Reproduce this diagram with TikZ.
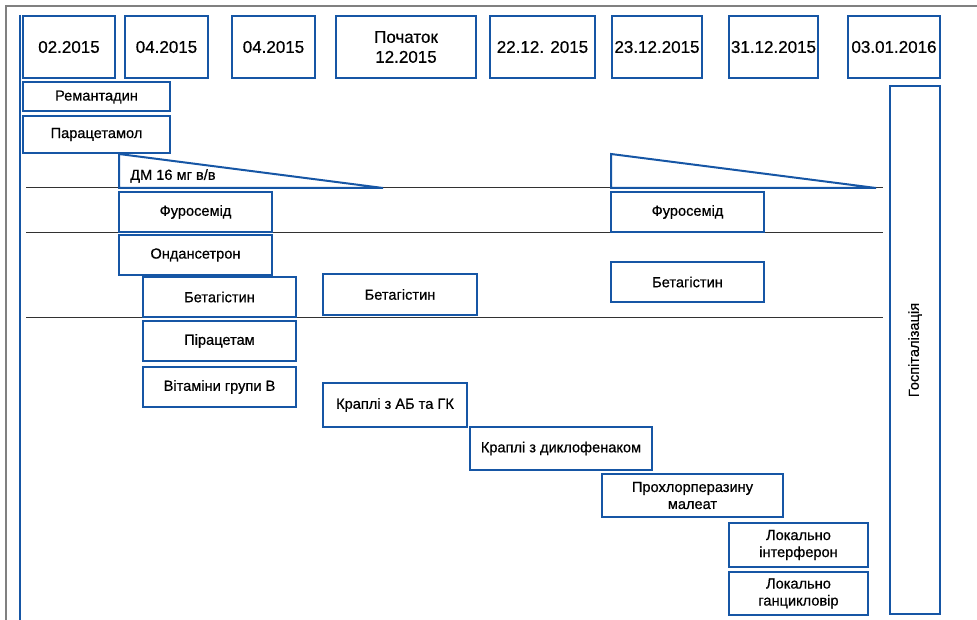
\documentclass[tikz,border=0pt]{standalone}
\usepackage{fontspec}
\setmainfont{Liberation Sans}
\newfontface\medfont{Liberation Sans}[FakeBold=0.6]
\definecolor{boxblue}{RGB}{22,86,165}
\definecolor{framegray}{RGB}{128,128,128}
\definecolor{rulegray}{RGB}{50,50,50}
\tikzset{
  box/.style={draw=boxblue, line width=2pt, fill=white, inner sep=1pt, align=center, font=\medfont\fontsize{14.6}{17}\selectfont},
  datebox/.style={box, font=\medfont\fontsize{17}{20}\selectfont, minimum height=62pt},
  rulestyle/.style={draw=rulegray, line width=1pt},
  tri/.style={draw=boxblue, line width=2pt, line join=miter}
}
\begin{document}
\begin{tikzpicture}[x=1pt,y=-1pt]
\useasboundingbox (0,0) rectangle (977,620);
% outer frame
\draw[framegray, line width=2pt] (6,620) -- (6,6) -- (977,6);
% timeline axis
\coordinate (axtop) at (20,15);
\coordinate (axbot) at (20,620);
\draw[boxblue, line width=2.2pt] (axtop) -- (axbot);
% horizontal rules
\coordinate (r1a) at (26,188); \coordinate (r1b) at (883,188);
\coordinate (r2a) at (26,233); \coordinate (r2b) at (883,233);
\coordinate (r3a) at (26,317); \coordinate (r3b) at (883,317);
\draw[rulestyle] (r1a) -- (r1b);
\draw[rulestyle] (r2a) -- (r2b);
\draw[rulestyle] (r3a) -- (r3b);
% triangles
\draw[tri] (119,154) -- (119,188) -- (383,188) -- cycle;
\draw[tri] (611,154) -- (611,188) -- (876,188) -- cycle;
\node[anchor=west, font=\medfont\fontsize{14.6}{17}\selectfont, inner sep=0pt] (dm) at (130,176) {ДМ 16 мг в/в};
% date boxes
\node[datebox, minimum width=92pt] (d1) at (69,47) {02.2015};
\node[datebox, minimum width=83pt] (d2) at (166.5,47) {04.2015};
\node[datebox, minimum width=83pt] (d3) at (273.5,47) {04.2015};
\node[datebox, minimum width=140pt] (d4) at (406,47) {Початок\\12.2015};
\node[datebox, minimum width=105pt] (d5) at (542.5,47) {22.12. 2015};
\node[datebox, minimum width=90pt] (d6) at (657,47) {23.12.2015};
\node[datebox, minimum width=89pt] (d7) at (773.5,47) {31.12.2015};
\node[datebox, minimum width=92pt] (d8) at (894,47) {03.01.2016};
% drug boxes
\node[box, minimum width=147pt, minimum height=29pt] (remant) at (96.5,97) {Ремантадин};
\node[box, minimum width=147pt, minimum height=37pt] (parac) at (96.5,134.5) {Парацетамол};
\node[box, minimum width=153pt, minimum height=40pt] (furo1) at (195.5,212) {Фуросемід};
\node[box, minimum width=153pt, minimum height=40pt] (ondan) at (195.5,255) {Ондансетрон};
\node[box, minimum width=153pt, minimum height=40pt] (beta1) at (219.5,297) {Бетагістин};
\node[box, minimum width=154pt, minimum height=41pt] (beta2) at (400,294.5) {Бетагістин};
\node[box, minimum width=153pt, minimum height=40pt] (pirac) at (219.5,341) {Пірацетам};
\node[box, minimum width=153pt, minimum height=40pt] (vitam) at (219.5,387) {Вітаміни групи В};
\node[box, minimum width=144pt, minimum height=44pt] (krapab) at (395,405) {Краплі з АБ та ГК};
\node[box, minimum width=182pt, minimum height=43pt] (dicl) at (561,448.5) {Краплі з диклофенаком};
\node[box, minimum width=181pt, minimum height=43pt] (prochl) at (692.5,495.5) {Прохлорперазину\\малеат};
\node[box, minimum width=139pt, minimum height=44pt] (interf) at (798.5,545) {Локально\\інтерферон};
\node[box, minimum width=139pt, minimum height=43pt] (ganc) at (798.5,593.5) {Локально\\ганцикловір};
\node[box, minimum width=153pt, minimum height=40pt] (furo2) at (687.5,212) {Фуросемід};
\node[box, minimum width=153pt, minimum height=40pt] (beta3) at (687.5,282) {Бетагістин};
\node[box, minimum width=50pt, minimum height=528pt] (hosp) at (915,350) {};
\node[rotate=90, font=\medfont\fontsize{14.6}{17}\selectfont, inner sep=0pt] (hosplabel) at (hosp.center) {Госпіталізація};
\end{tikzpicture}
\end{document}
